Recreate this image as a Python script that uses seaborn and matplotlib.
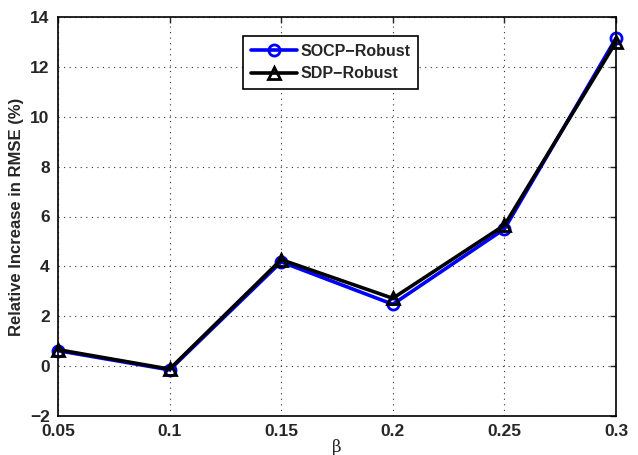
import matplotlib
matplotlib.use("Agg")
import matplotlib.pyplot as plt
import seaborn as sns
import pandas as pd

beta = [0.05, 0.10, 0.15, 0.20, 0.25, 0.30]
socp_robust = [0.62, -0.15, 4.18, 2.48, 5.50, 13.15]
sdp_robust = [0.66, -0.12, 4.27, 2.72, 5.65, 13.00]
xticks = [0.05, 0.1, 0.15, 0.2, 0.25, 0.3]
xticklabels = ["0.05", "0.1", "0.15", "0.2", "0.25", "0.3"]
yticks = [-2, 0, 2, 4, 6, 8, 10, 12, 14]

sns.set_theme(style="white")
plt.rcParams["font.family"] = ["Liberation Sans", "DejaVu Sans"]

colors = {"SOCP\u2212Robust": "#0000ff", "SDP\u2212Robust": "#000000"}
df = pd.concat([
    pd.DataFrame({"beta": beta, "value": socp_robust, "method": "SOCP\u2212Robust"}),
    pd.DataFrame({"beta": beta, "value": sdp_robust, "method": "SDP\u2212Robust"}),
])

fig = plt.figure(figsize=(6.38, 4.55), dpi=100)
ax = fig.add_axes([58 / 638, 1 - 416 / 455, (616 - 58) / 638, (416 - 17) / 455])

sns.lineplot(data=df, x="beta", y="value", hue="method", style="method",
             palette=colors,
             markers={"SOCP\u2212Robust": "o", "SDP\u2212Robust": "^"},
             dashes=False, linewidth=2.6, markersize=8, markeredgewidth=2,
             ax=ax, legend=True)
for line in ax.lines:
    line.set_markerfacecolor("none")
    line.set_markeredgecolor(line.get_color())
    line.set_clip_on(False)

ax.set_xlim(0.05, 0.3)
ax.set_ylim(-2, 14)
ax.set_xticks(xticks)
ax.set_xticklabels(xticklabels)
ax.set_yticks(yticks)
ax.set_yticklabels(["\u22122"] + [str(v) for v in yticks[1:]])
ax.grid(True, linestyle=(0, (1, 4)), color="#333333", linewidth=0.8)
ax.tick_params(direction="in", length=4, width=1, labelsize=12.5, top=True, right=True,
               pad=6)
for lab in ax.get_xticklabels() + ax.get_yticklabels():
    lab.set_fontweight("bold")
for s in ax.spines.values():
    s.set_color("black")
    s.set_linewidth(1.2)

ax.set_xlabel("\u03b2", fontsize=12, fontfamily="DejaVu Serif", labelpad=0)
ax.set_ylabel("Relative Increase in RMSE (%)", fontsize=12, fontweight="bold", labelpad=4)

leg = ax.legend(loc="upper left", bbox_to_anchor=(0.3165, 0.9725), fontsize=11.5,
                frameon=True, fancybox=False, edgecolor="black", framealpha=1,
                handlelength=2.9, borderpad=0.5, labelspacing=0.45, handletextpad=0.2)
leg.get_frame().set_linewidth(1.2)
for t in leg.get_texts():
    t.set_fontweight("bold")
for h in leg.get_lines():
    h.set_markerfacecolor("none")
    h.set_markeredgecolor(h.get_color())
    h.set_markeredgewidth(2)
    h.set_linewidth(2.6)

fig.savefig("out.png", dpi=100)
